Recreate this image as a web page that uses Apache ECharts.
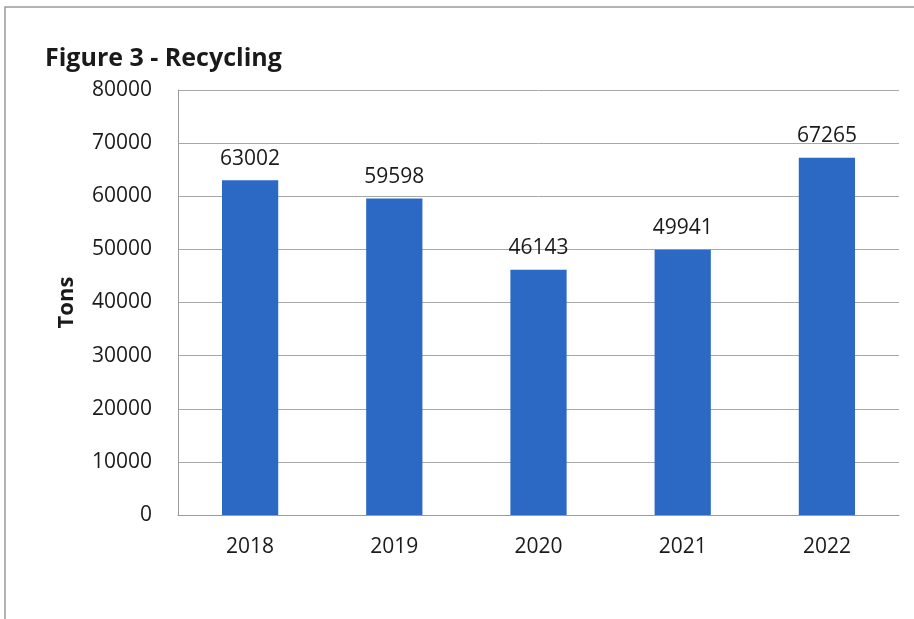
<!DOCTYPE html>
<html>
<head>
<meta charset="utf-8">
<script src="https://cdn.jsdelivr.net/npm/echarts@6/dist/echarts.min.js"></script>
<style>
  html, body { margin: 0; padding: 0; background: #fff; }
  #chart { width: 914px; height: 619px; }
</style>
</head>
<body>
<div id="chart"></div>
<script>
const years = ['2018', '2019', '2020', '2021', '2022']
const tons = [63002, 59598, 46143, 49941, 67265]
const font = '"Open Sans", Lato, sans-serif'

const myChart = echarts.init(document.getElementById('chart'))
myChart.setOption({
  animation: false,
  backgroundColor: '#fff',
  title: {
    text: 'Figure 3 - Recycling',
    left: 40,
    top: 41,
    textStyle: { fontFamily: font, fontWeight: 'bold', fontSize: 25, color: '#1a1a1a' }
  },
  graphic: [{
    type: 'rect',
    shape: { x: 5, y: 7, width: 912, height: 620 },
    style: { fill: 'none', stroke: '#9a9a9a', lineWidth: 1.5 },
    silent: true
  }],
  grid: { left: 178, right: 15, top: 90, bottom: 104 },
  xAxis: {
    type: 'category',
    data: years,
    axisLine: { lineStyle: { color: '#9a9a9a' } },
    axisTick: { show: false },
    axisLabel: { color: '#1a1a1a', fontFamily: font, fontSize: 21, margin: 22 }
  },
  yAxis: {
    type: 'value',
    min: 0,
    max: 80000,
    interval: 10000,
    name: 'Tons',
    nameLocation: 'middle',
    nameGap: 100,
    nameTextStyle: { fontFamily: font, fontWeight: 'bold', fontSize: 22, color: '#1a1a1a' },
    axisLine: { show: true, lineStyle: { color: '#9a9a9a' } },
    splitLine: { lineStyle: { color: '#a8a8a8', width: 1 } },
    axisLabel: { color: '#1a1a1a', fontFamily: font, fontSize: 21, margin: 26, formatter: v => String(v) }
  },
  series: [{
    name: 'Tons',
    type: 'bar',
    data: tons,
    barWidth: '39%',
    itemStyle: { color: '#2b69c4' },
    label: {
      show: true,
      position: 'top',
      distance: 11,
      color: '#1a1a1a',
      fontFamily: font,
      fontSize: 21
    }
  }]
})
</script>
</body>
</html>
